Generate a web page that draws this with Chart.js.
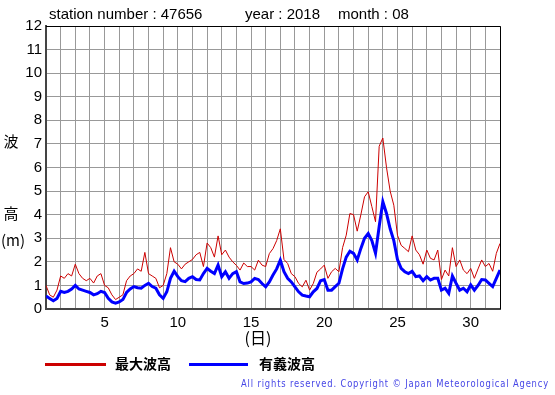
<!DOCTYPE html>
<html>
<head>
<meta charset="utf-8">
<script src="https://cdn.jsdelivr.net/npm/chart.js@4.4.0/dist/chart.umd.min.js"></script>
<style>
  body { margin: 0; background: #fff; }
  #wrap { width: 555px; height: 395px; }
</style>
</head>
<body>
<div id="wrap"><canvas id="waveChart" width="555" height="395"></canvas></div>
<script>
// 4 readings per day (0h, 6h, 12h, 18h), day 1 .. day 31, plus the end of the month
var readingsPerDay = 4;

// 最大波高 (m)
var maxWave = [
  1.0, 0.6, 0.5, 0.8,     // 1
  1.4, 1.3, 1.5, 1.4,     // 2
  1.9, 1.5, 1.3, 1.2,     // 3
  1.3, 1.1, 1.4, 1.5,     // 4
  1.0, 0.9, 0.6, 0.4,     // 5
  0.5, 0.6, 1.2, 1.4,     // 6
  1.5, 1.7, 1.6, 2.4,     // 7
  1.5, 1.4, 1.3, 0.9,     // 8
  1.0, 1.5, 2.6, 2.0,     // 9
  1.9, 1.7, 1.9, 2.0,     // 10
  2.1, 2.3, 2.4, 1.8,     // 11
  2.8, 2.6, 2.2, 3.1,     // 12
  2.3, 2.5, 2.2, 2.0,     // 13
  1.85, 1.65, 1.95, 1.8,  // 14
  1.8, 1.65, 2.07, 1.86,  // 15
  1.8, 2.35, 2.56, 2.9,   // 16
  3.4, 2.1, 1.93, 1.5,    // 17
  1.37, 1.08, 0.94, 1.22, // 18
  0.8, 1.08, 1.56, 1.7,   // 19
  1.86, 1.3, 1.58, 1.72,  // 20
  1.58, 2.6, 3.13, 4.05,  // 21
  4.0, 3.3, 4.0, 4.76,    // 22
  4.97, 4.34, 3.7, 6.9,   // 23
  7.25, 6.0, 5.0, 4.4,    // 24
  3.13, 2.7, 2.57, 2.43,  // 25
  3.1, 2.5, 2.3, 1.9,     // 26
  2.5, 2.15, 2.08, 2.5,   // 27
  1.25, 1.65, 1.4, 2.6,   // 28
  1.8, 2.08, 1.65, 1.5,   // 29
  1.72, 1.3, 1.7, 2.08,   // 30
  1.8, 1.93, 1.6, 2.36,   // 31
  2.78
];

// 有義波高 (m)
var sigWave = [
  0.55, 0.45, 0.35, 0.45, // 1
  0.75, 0.7, 0.75, 0.85,  // 2
  1.0, 0.85, 0.8, 0.75,   // 3
  0.7, 0.6, 0.65, 0.75,   // 4
  0.7, 0.45, 0.3, 0.25,   // 5
  0.3, 0.4, 0.7, 0.85,    // 6
  0.95, 0.9, 0.88, 1.0,   // 7
  1.09, 0.95, 0.88, 0.6,  // 8
  0.45, 0.73, 1.3, 1.6,   // 9
  1.37, 1.2, 1.16, 1.3,   // 10
  1.37, 1.25, 1.23, 1.5,  // 11
  1.72, 1.6, 1.5, 1.86,   // 12
  1.37, 1.58, 1.3, 1.5,   // 13
  1.58, 1.15, 1.08, 1.1,  // 14
  1.15, 1.3, 1.25, 1.08,  // 15
  0.94, 1.15, 1.44, 1.7,  // 16
  2.07, 1.58, 1.3, 1.15,  // 17
  0.94, 0.73, 0.59, 0.55, // 18
  0.52, 0.73, 0.87, 1.2,  // 19
  1.25, 0.8, 0.8, 0.95,   // 20
  1.09, 1.7, 2.2, 2.45,   // 21
  2.36, 2.08, 2.57, 3.0,  // 22
  3.2, 2.9, 2.36, 3.5,    // 23
  4.55, 4.05, 3.4, 2.9,   // 24
  2.1, 1.72, 1.58, 1.5,   // 25
  1.6, 1.37, 1.4, 1.2,    // 26
  1.37, 1.23, 1.3, 1.3,   // 27
  0.8, 0.88, 0.66, 1.4,   // 28
  1.09, 0.8, 0.88, 0.73,  // 29
  1.02, 0.8, 1.0, 1.25,   // 30
  1.23, 1.09, 0.95, 1.3,  // 31
  1.65
];

var dayLabels = [5, 10, 15, 20, 25, 30];
var titleParts = ["station number : 47656", "year : 2018", "month : 08"];
var seriesNames = ["最大波高", "有義波高"];

function toPoints(values) {
  return values.map(function (v, i) {
    return { x: 1 + i / readingsPerDay, y: v };
  });
}

// texts, legend and the top/right frame
var decorPlugin = {
  id: "decor",
  afterDraw: function (chart) {
    var ctx = chart.ctx;
    var area = chart.chartArea;
    ctx.save();

    ctx.strokeStyle = "#000";
    ctx.lineWidth = 1;
    ctx.beginPath();
    ctx.moveTo(area.left, area.top + 0.5);
    ctx.lineTo(area.right + 0.5, area.top + 0.5);
    ctx.lineTo(area.right + 0.5, area.bottom);
    ctx.stroke();

    ctx.fillStyle = "#000";
    ctx.textBaseline = "middle";
    ctx.font = '15px "Liberation Sans", Arial, sans-serif';
    ctx.fillText(titleParts[0], 49, 15);
    ctx.fillText(titleParts[1], 245, 15);
    ctx.fillText(titleParts[2], 338, 15);

    ctx.textAlign = "center";
    ctx.font = '15px "Noto Sans CJK JP", sans-serif';
    ctx.fillText("波", 11, 141);
    ctx.fillText("高", 11, 213);
    ctx.fillText("(m)", 13, 240);
    ctx.font = '16px "Noto Sans CJK JP", sans-serif';
    ctx.fillText("(日)", 258, 338);

    // legend
    ctx.lineWidth = 3;
    ctx.strokeStyle = "#cc0000";
    ctx.beginPath();
    ctx.moveTo(45, 364.5);
    ctx.lineTo(106, 364.5);
    ctx.stroke();
    ctx.strokeStyle = "#0000ff";
    ctx.beginPath();
    ctx.moveTo(189, 364.5);
    ctx.lineTo(248, 364.5);
    ctx.stroke();
    ctx.textAlign = "left";
    ctx.font = 'bold 14px "Noto Sans CJK JP", sans-serif';
    ctx.fillText(seriesNames[0], 115, 364);
    ctx.fillText(seriesNames[1], 259, 364);

    ctx.fillStyle = "#4646e6";
    ctx.font = '10px "DejaVu Sans", sans-serif';
    ctx.letterSpacing = "1px";
    ctx.fillText("All rights reserved. Copyright © Japan Meteorological Agency", 241, 384, 308);

    ctx.restore();
  },
};

var ctx = document.getElementById("waveChart").getContext("2d");
var waveChart = new Chart(ctx, {
  type: "line",
  data: {
    datasets: [
      {
        label: seriesNames[1],
        data: toPoints(sigWave),
        borderColor: "#0000ff",
        borderWidth: 3,
        pointRadius: 0,
        tension: 0,
      },
      {
        label: seriesNames[0],
        data: toPoints(maxWave),
        borderColor: "#cc0000",
        borderWidth: 1,
        pointRadius: 0,
        tension: 0,
      },
    ],
  },
  options: {
    responsive: false,
    animation: false,
    layout: { padding: { left: 0, top: 26, right: 55, bottom: 56 } },
    plugins: { legend: { display: false }, tooltip: { enabled: false } },
    scales: {
      x: {
        type: "linear",
        min: 1,
        max: 32,
        afterFit: function (scale) { scale.height = 30; },
        grid: { color: "#999", drawTicks: false },
        border: { color: "#444", width: 2 },
        ticks: {
          stepSize: 1,
          autoSkip: false,
          maxRotation: 0,
          padding: 5,
          color: "#000",
          font: { family: '"Liberation Sans", Arial, sans-serif', size: 15 },
          callback: function (v) { return dayLabels.indexOf(v) >= 0 ? String(v) : ""; },
        },
      },
      y: {
        min: 0,
        max: 12,
        afterFit: function (scale) { scale.width = 46; },
        grid: { color: "#999", drawTicks: false },
        border: { color: "#444", width: 2 },
        ticks: {
          stepSize: 1,
          padding: 4,
          color: "#000",
          font: { family: '"Liberation Sans", Arial, sans-serif', size: 15 },
        },
      },
    },
  },
  plugins: [decorPlugin],
});
</script>
</body>
</html>
